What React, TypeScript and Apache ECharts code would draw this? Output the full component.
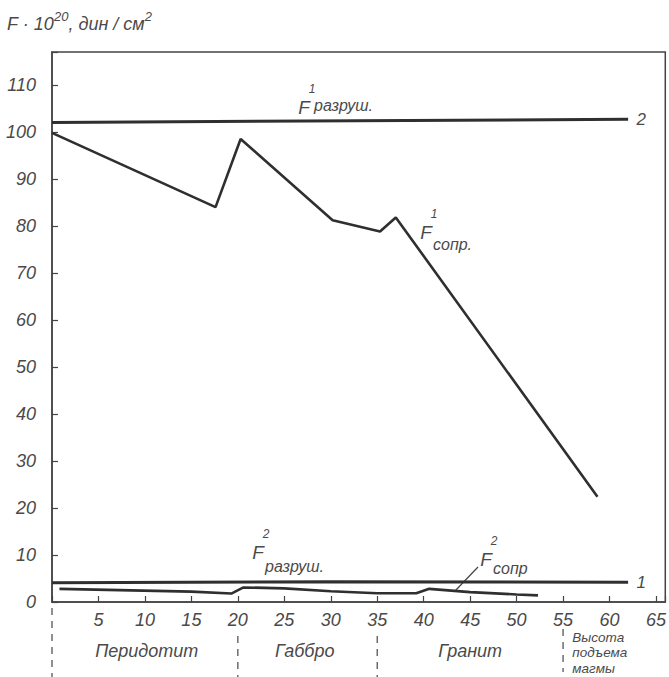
import React, { useEffect, useRef } from "react";
import * as echarts from "echarts";

// ---- data ----
const xTickLabels = [5, 10, 15, 20, 25, 30, 35, 40, 45, 50, 55, 60, 65];
const yTickLabels = [0, 10, 20, 30, 40, 50, 60, 70, 80, 90, 100, 110];

// line 2: F¹ разруш.
const f1RazrX = [0, 62];
const f1RazrY = [102.0, 102.7];

// F¹ сопр.
const f1SoprX = [0, 17.6, 20.3, 30.2, 35.3, 37.0, 58.7];
const f1SoprY = [99.8, 84.0, 98.5, 81.2, 78.8, 81.8, 22.4];

// line 1: F² разруш.
const f2RazrX = [0, 30, 62];
const f2RazrY = [4.1, 4.3, 4.2];

// F² сопр
const f2SoprX = [0.8, 15, 19.3, 20.6, 25, 30, 35, 39.2, 40.6, 45, 50, 52.3];
const f2SoprY = [2.8, 2.2, 1.8, 3.1, 2.9, 2.3, 1.85, 1.85, 2.8, 2.1, 1.6, 1.4];

// rock zones along the x axis (boundaries) and names
const zoneBounds = [0, 20, 35, 55];
const zoneNames = ["Перидотит", "Габбро", "Гранит"];
const zoneCenters = [10.2, 27.2, 45];
const lastZoneLines = ["Высота", "подъема", "магмы"];

const FONT = "'Liberation Sans', Arial, sans-serif";
const INK = "#2f2f2f";
const TXT = "#4a4a4a";

const pairs = (xs: number[], ys: number[]) => xs.map((x, i) => [x, ys[i]]);

export default function App() {
  const ref = useRef<HTMLDivElement>(null);

  useEffect(() => {
    document.body.style.margin = "0";
    const chart = echarts.init(ref.current!, null, { renderer: "svg" });
    const lineStyle = (w: number) => ({ color: INK, width: w });
    const mkSeries = (name: string, xs: number[], ys: number[], w: number) => ({
      name,
      type: "line",
      data: pairs(xs, ys),
      symbol: "none",
      lineStyle: lineStyle(w),
      silent: true,
    });
    const italicRich = {
      i: { fontSize: 18, fontStyle: "italic", fontFamily: FONT, color: TXT },
    };

    chart.setOption({
      animation: false,
      backgroundColor: "#ffffff",
      grid: {
        left: 52,
        right: 3,
        top: 52,
        bottom: 75,
        show: true,
        borderColor: "#444",
        borderWidth: 1.5,
        containLabel: false,
      },
      xAxis: {
        type: "value",
        min: 0,
        max: 66,
        interval: 5,
        axisLine: { show: true, lineStyle: { color: "#444", width: 1.5 } },
        axisTick: { show: true, inside: true, length: 6, lineStyle: { color: "#444", width: 1.2 } },
        splitLine: { show: false },
        axisLabel: {
          margin: 9,
          fontSize: 18,
          fontStyle: "italic",
          fontFamily: FONT,
          color: TXT,
          rich: italicRich,
          formatter: (v: number) => (xTickLabels.includes(v) ? `{i|${v}}` : ""),
        },
      },
      yAxis: {
        type: "value",
        min: 0,
        max: 117,
        interval: 10,
        axisLine: { show: true, lineStyle: { color: "#444", width: 1.5 } },
        axisTick: { show: true, inside: true, length: 6, lineStyle: { color: "#444", width: 1.2 } },
        splitLine: { show: false },
        axisLabel: {
          margin: 16,
          fontSize: 18,
          fontStyle: "italic",
          fontFamily: FONT,
          color: TXT,
          rich: italicRich,
          formatter: (v: number) => (yTickLabels.includes(v) ? `{i|${v}}` : ""),
        },
      },
      series: [
        mkSeries("F1 разруш", f1RazrX, f1RazrY, 3),
        mkSeries("F1 сопр", f1SoprX, f1SoprY, 2.6),
        mkSeries("F2 разруш", f2RazrX, f2RazrY, 3),
        mkSeries("F2 сопр", f2SoprX, f2SoprY, 2.6),
      ],
    });

    const px = (x: number, y: number) => chart.convertToPixel({ gridIndex: 0 }, [x, y]) as number[];
    const axisY = px(0, 0)[1];

    const txt = (
      text: string,
      x: number,
      y: number,
      size: number,
      align: string = "center",
      italic = true
    ) => ({
      type: "text",
      x,
      y,
      silent: true,
      style: {
        text,
        fontSize: size,
        fontStyle: italic ? "italic" : "normal",
        fontFamily: FONT,
        fill: TXT,
        align,
        verticalAlign: "middle",
      },
    });

    const graphics: any[] = [];

    // dashed zone separators below the axis
    zoneBounds.forEach((b, i) => {
      const x = px(b, 0)[0];
      const y1 = i === 0 ? axisY + 6 : i === 3 ? axisY + 27 : axisY + 34;
      const y2 = i === 3 ? 672 : 677;
      graphics.push({
        type: "line",
        silent: true,
        shape: { x1: x, y1, x2: x, y2 },
        style: { stroke: "#555", lineWidth: 1.3, lineDash: [7, 6] },
      });
    });

    // zone names
    zoneNames.forEach((n, i) => {
      const x = px(zoneCenters[i], 0)[0];
      graphics.push(txt(n, x, 651, 18));
    });
    const lzx = px(56, 0)[0];
    lastZoneLines.forEach((n, i) => {
      graphics.push(txt(n, lzx, 637 + i * 15.5, 13.5, "left"));
    });

    // title
    graphics.push({
      type: "text",
      x: 7,
      y: 10,
      silent: true,
      style: {
        text: "{a|F · 10}{s|20}{a|, дин / см}{s|2}",
        fontFamily: FONT,
        fill: TXT,
        rich: {
          a: { fontSize: 18, fontStyle: "italic", fontFamily: FONT, fill: TXT, lineHeight: 23, verticalAlign: "bottom" },
          s: { fontSize: 13, fontStyle: "italic", fontFamily: FONT, fill: TXT, lineHeight: 23, verticalAlign: "top" },
        },
      },
    });

    // annotations: F with superscript and subscript
    const fLabel = (fx: number, fy: number, sup: string, sub: string, subDy: number, subDx = 7) => {
      graphics.push(txt("F", fx, fy, 19));
      graphics.push(txt(sup, fx + 8, fy - 18, 12));
      graphics.push(txt(sub, fx + subDx, fy + subDy, 16, "left"));
    };
    fLabel(304, 107, "1", "разруш.", -2, 10);
    fLabel(426, 232, "1", "сопр.", 12);
    fLabel(258, 552, "2", "разруш.", 14);
    fLabel(486, 559, "2", "сопр", 9);

    // leader line for F² сопр
    graphics.push({
      type: "line",
      silent: true,
      shape: { x1: 455, y1: 591, x2: 478, y2: 567 },
      style: { stroke: "#444", lineWidth: 1.2 },
    });

    // curve numbers
    const end2 = px(f1RazrX[1], f1RazrY[1]);
    graphics.push(txt("2", end2[0] + 13, end2[1], 17));
    const end1 = px(f2RazrX[2], f2RazrY[2]);
    graphics.push(txt("1", end1[0] + 13, end1[1], 17));

    chart.setOption({ graphic: graphics });

    return () => chart.dispose();
  }, []);

  return (
    <div
      ref={ref}
      style={{ position: "absolute", left: 0, top: 0, width: 669, height: 677, background: "#fff" }}
    />
  );
}
